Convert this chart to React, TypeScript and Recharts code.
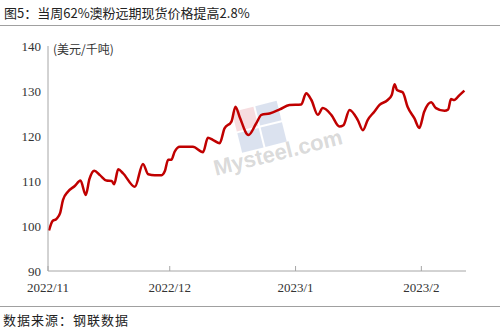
import React from 'react'
import { LineChart, Line, XAxis, YAxis } from 'recharts'

// day offset from 2022-11-01, and price (USD/t)
const days = [
  0.25, 1.1, 2.1, 3.0, 3.7, 4.9, 6.6, 8.0, 9.3, 10.2, 11.4, 12.8, 14.4, 15.7, 16.3,
  17.3, 18.5, 21.4, 23.4, 24.7, 26.3, 28.0, 28.8, 29.6, 30.4, 31.2, 32.5, 35.7, 38.2,
  39.4, 40.7, 42.3, 43.5, 45.2, 46.2, 47.2, 49.4, 51.3, 52.6, 54.6, 57.1, 59.5, 62.4,
  63.6, 64.9, 66.5, 67.7, 69.8, 71.8, 72.8, 74.3, 76.3, 77.6, 78.8, 80.4, 81.7, 83.7,
  84.7, 85.4, 86.0, 87.4, 88.6, 90.3, 91.5, 92.7, 94.4, 95.6, 97.7, 98.6, 99.3, 100.1,
  101.4, 102.6,
]
const prices = [
  99.0, 101.1, 101.6, 102.9, 105.8, 107.6, 108.9, 110.1, 106.9, 110.4, 112.3, 111.3, 110.1, 110.0, 109.3,
  112.6, 111.7, 108.7, 113.8, 111.5, 111.3, 111.3, 112.2, 114.7, 114.7, 116.5, 117.6, 117.6, 116.4,
  119.6, 119.1, 118.4, 121.7, 123.2, 126.5, 124.3, 120.2, 122.8, 124.7, 125.0, 125.9, 126.9, 127.0,
  129.5, 128.0, 124.7, 126.2, 124.7, 122.1, 122.4, 125.8, 123.6, 121.3, 123.6, 125.4, 126.9, 128.0,
  129.1, 131.5, 130.2, 129.7, 126.5, 123.9, 121.8, 125.4, 127.5, 126.2, 125.6, 125.9, 128.2, 128.0,
  129.1, 130.1,
]
const xTicks = [0, 30, 61, 92]
const xTickLabels = ['2022/11', '2022/12', '2023/1', '2023/2']
const yTicks = [90, 100, 110, 120, 130, 140]

const data = days.map((d, i) => ({ day: d, price: prices[i] }))

const serif = '"Liberation Serif", "Times New Roman", serif'
const cjk = '"Noto Sans CJK SC", sans-serif'

const XTick = (props: any) => {
  const { x, y, payload } = props
  const idx = xTicks.indexOf(payload.value)
  return (
    <g>
      <line x1={x} x2={x} y1={y - 5} y2={y} stroke="#a6a6a6" />
      <text x={x} y={y + 21} textAnchor="middle" fontSize={13} fontFamily={serif} fill="#333">
        {xTickLabels[idx]}
      </text>
    </g>
  )
}

export default function App() {
  return (
    <div style={{ position: 'absolute', left: 0, top: 0, width: 500, height: 333, background: '#fff', overflow: 'hidden' }}>
      <div style={{ position: 'absolute', left: 4, top: 3, fontSize: 13, fontFamily: cjk, color: '#222', whiteSpace: 'nowrap' }}>
        图5：当周62%澳粉远期现货价格提高2.8%
      </div>
      <div style={{ position: 'absolute', left: 0, top: 25, width: 500, height: 1, background: '#a0a0a0' }} />

      {/* watermark */}
      <div style={{ position: 'absolute', left: 232, top: 112, transform: 'rotate(-14deg)' }}>
        <div style={{ position: 'absolute', left: 0, top: 0, width: 22, height: 20, background: 'rgba(220,120,130,0.25)' }} />
        <div style={{ position: 'absolute', left: 24, top: 0, width: 22, height: 20, background: 'rgba(110,140,190,0.25)' }} />
        <div style={{ position: 'absolute', left: 0, top: 22, width: 22, height: 20, background: 'rgba(110,140,190,0.25)' }} />
        <div style={{ position: 'absolute', left: 24, top: 22, width: 22, height: 20, background: 'rgba(110,140,190,0.25)' }} />
      </div>
      <div
        style={{
          position: 'absolute',
          left: 212,
          top: 140,
          fontSize: 22,
          fontFamily: '"Liberation Sans", Arial, sans-serif',
          fontWeight: 'bold',
          color: 'rgba(160,160,160,0.4)',
          transform: 'rotate(-14deg)',
          whiteSpace: 'nowrap',
        }}
      >
        Mysteel.com
      </div>

      <LineChart
        width={500}
        height={300}
        data={data}
        margin={{ top: 46, right: 34, bottom: 4, left: 0 }}
        style={{ position: 'absolute', left: 0, top: 0 }}
      >
        <XAxis
          dataKey="day"
          type="number"
          domain={[0, 103]}
          ticks={xTicks}
          tick={<XTick />}
          tickLine={false}
          tickSize={0}
          tickMargin={0}
          height={25}
          axisLine={{ stroke: '#a6a6a6' }}
          interval={0}
        />
        <YAxis
          domain={[90, 140]}
          ticks={yTicks}
          width={48}
          tickLine={false}
          tickSize={0}
          tickMargin={7}
          axisLine={{ stroke: '#a6a6a6' }}
          tick={{ fontSize: 13, fontFamily: serif, fill: '#333' }}
          interval={0}
        />
        <Line
          type="monotone"
          dataKey="price"
          stroke="#c00000"
          strokeWidth={2.5}
          dot={false}
          isAnimationActive={false}
        />
      </LineChart>

      <div style={{ position: 'absolute', left: 53, top: 40, fontSize: 12, fontFamily: cjk, color: '#333', whiteSpace: 'nowrap' }}>
        (美元/千吨)
      </div>

      <div style={{ position: 'absolute', left: 0, top: 306, width: 500, height: 1, background: '#a0a0a0' }} />
      <div style={{ position: 'absolute', left: 3, top: 310, fontSize: 13, fontFamily: cjk, color: '#222', letterSpacing: 1, whiteSpace: 'nowrap' }}>
        数据来源：钢联数据
      </div>
    </div>
  )
}
